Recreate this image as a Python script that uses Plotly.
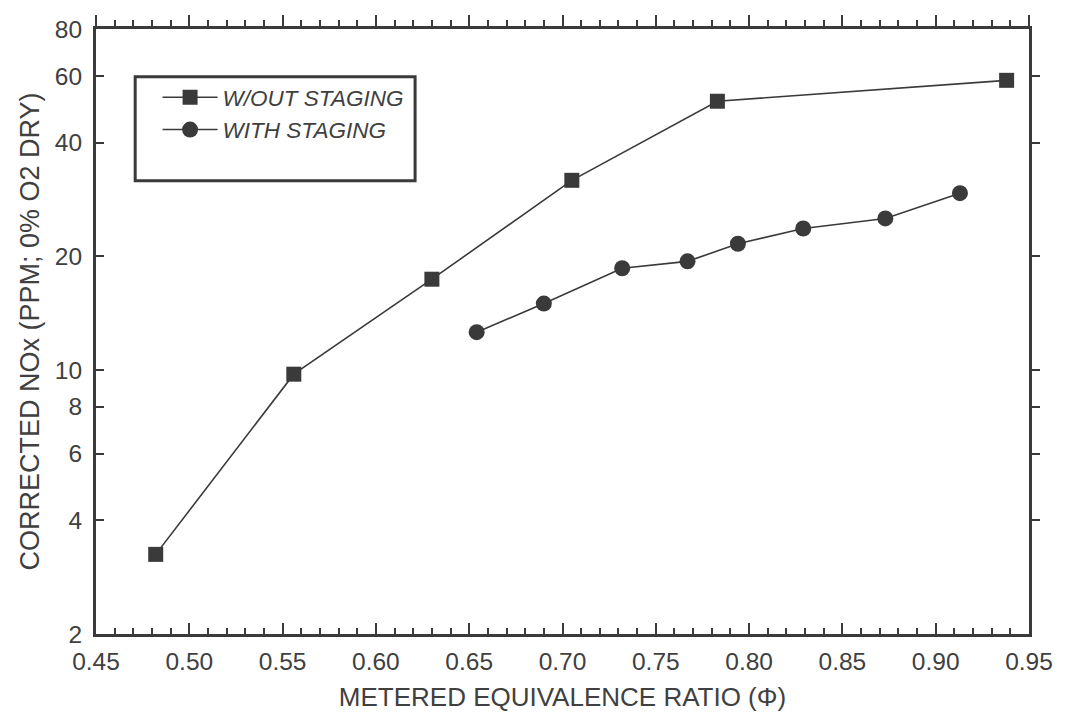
import plotly.graph_objects as go

# Data
phi_without = [0.482, 0.556, 0.630, 0.705, 0.783, 0.938]
nox_without = [3.25, 9.75, 17.4, 31.8, 51.5, 58.5]

phi_with = [0.654, 0.690, 0.732, 0.767, 0.794, 0.829, 0.873, 0.913]
nox_with = [12.6, 15.0, 18.6, 19.4, 21.6, 23.7, 25.2, 29.4]

y_tickvals = [2, 4, 6, 8, 10, 20, 40, 60, 80]
y_ticktext = ["2", "4", "6", "8", "10", "20", "40", "60", "80"]
x_tickvals = [0.45, 0.50, 0.55, 0.60, 0.65, 0.70, 0.75, 0.80, 0.85, 0.90, 0.95]
x_ticktext = ["0.45", "0.50", "0.55", "0.60", "0.65", "0.70", "0.75", "0.80", "0.85", "0.90", "0.95"]

ink = "#3a3a3a"
txt = "#404040"
font_family = "Liberation Sans, Arial, sans-serif"

fig = go.Figure()
fig.add_trace(go.Scatter(
    x=phi_without, y=nox_without, mode="lines+markers", name="W/OUT STAGING",
    line=dict(color=ink, width=1.6),
    marker=dict(symbol="square", size=15, color=ink),
))
fig.add_trace(go.Scatter(
    x=phi_with, y=nox_with, mode="lines+markers", name="WITH STAGING",
    line=dict(color=ink, width=1.6),
    marker=dict(symbol="circle", size=16, color=ink),
))
# Transparent copies on the frame axes (top / right) so that those axes get drawn
fig.add_trace(go.Scatter(
    x=phi_with, y=nox_with, mode="markers", xaxis="x2", yaxis="y",
    marker=dict(opacity=0, size=1), showlegend=False, hoverinfo="skip",
))
fig.add_trace(go.Scatter(
    x=phi_with, y=nox_with, mode="markers", xaxis="x", yaxis="y2",
    marker=dict(opacity=0, size=1), showlegend=False, hoverinfo="skip",
))

fig.update_layout(
    width=1065, height=720,
    margin=dict(l=96, r=36, t=29, b=82),
    paper_bgcolor="white", plot_bgcolor="white",
    font=dict(family=font_family, color=txt, size=22),
    showlegend=True,
    legend=dict(
        x=0.066, y=0.922, xanchor="left", yanchor="top",
        bgcolor="rgba(0,0,0,0)", borderwidth=0,
        font=dict(size=22.5, style="italic", color=txt),
        itemwidth=55, tracegroupgap=0,
    ),
    xaxis=dict(
        range=[0.45, 0.95], tickvals=x_tickvals, ticktext=x_ticktext,
        ticks="inside", ticklen=11, tickwidth=2, tickcolor=ink,
        showline=True, linecolor=ink, linewidth=3, showgrid=False, zeroline=False,
        minor=dict(dtick=0.01, tick0=0.45, ticks="inside", ticklen=6, tickwidth=2, tickcolor=ink),
        tickfont=dict(size=24.5, color=txt), ticklabelstandoff=4,
        title=dict(text="METERED EQUIVALENCE RATIO (Φ)", font=dict(size=26, color=txt), standoff=14),
    ),
    xaxis2=dict(
        range=[0.45, 0.95], overlaying="x", side="top", anchor="y",
        tickvals=x_tickvals, ticks="outside", ticklen=11, tickwidth=2, tickcolor=ink,
        showticklabels=False, showline=True, linecolor=ink, linewidth=3,
        showgrid=False, zeroline=False,
        minor=dict(dtick=0.01, tick0=0.45, ticks="outside", ticklen=6, tickwidth=2, tickcolor=ink),
    ),
    yaxis=dict(
        type="log", range=[0.30103, 1.90309],
        tickvals=y_tickvals, ticktext=y_ticktext,
        ticks="inside", ticklen=8, tickwidth=2, tickcolor=ink,
        showline=True, linecolor=ink, linewidth=3, showgrid=False, zeroline=False,
        tickfont=dict(size=24.5, color=txt), ticklabelstandoff=6,
        title=dict(text="CORRECTED NOx (PPM; 0% O2 DRY)", font=dict(size=27, color=txt), standoff=8),
    ),
    yaxis2=dict(
        type="log", range=[0.30103, 1.90309], overlaying="y", side="right", anchor="x",
        tickvals=y_tickvals[1:-1], ticks="outside", ticklen=8, tickwidth=2, tickcolor=ink,
        showticklabels=False, showline=True, linecolor=ink, linewidth=3,
        showgrid=False, zeroline=False,
    ),
)

# Legend frame
fig.add_shape(type="rect", xref="paper", yref="paper",
              x0=0.042, x1=0.342, y0=0.749, y1=0.921,
              line=dict(color=ink, width=3), fillcolor="rgba(0,0,0,0)")

fig.write_html("out.html")
